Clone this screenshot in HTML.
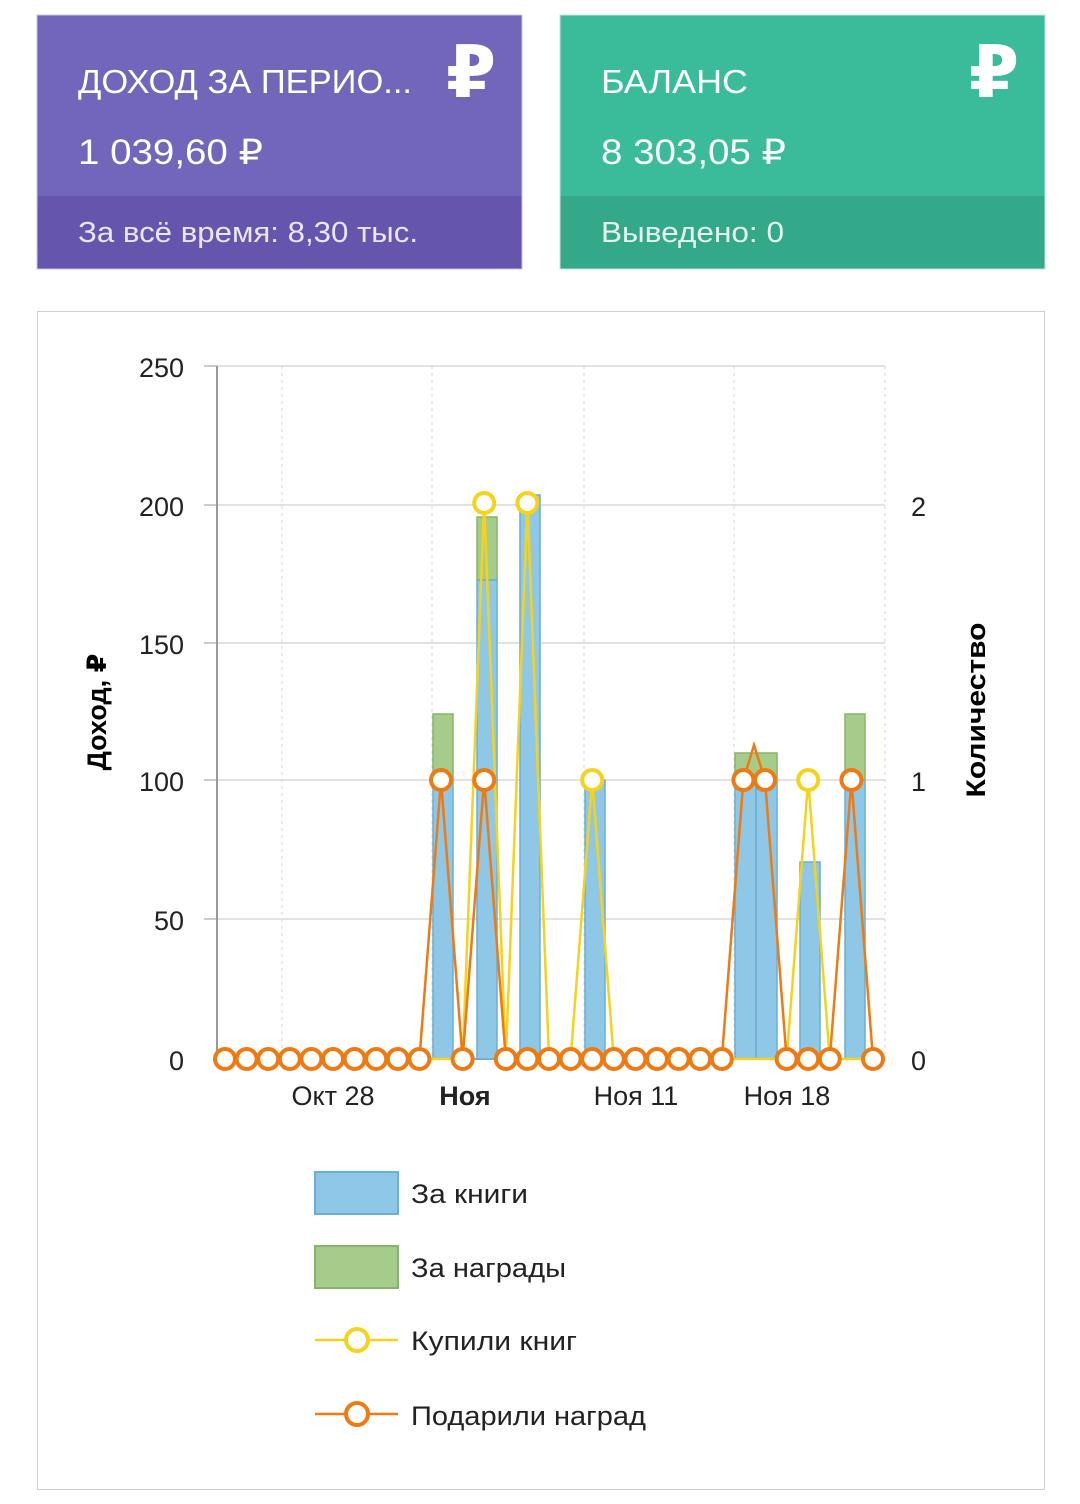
<!DOCTYPE html><html><head><meta charset="utf-8"><style>
body{margin:0;width:1080px;height:1499px;background:#fff;font-family:"Liberation Sans","DejaVu Sans",sans-serif;overflow:hidden}
</style></head><body>
<svg width="1080" height="1499" xmlns="http://www.w3.org/2000/svg" font-family="Liberation Sans, DejaVu Sans, sans-serif">
<rect x="37" y="15" width="485" height="254" fill="#7166b9" stroke="#c9c6dd"/>
<rect x="37.5" y="196" width="484" height="72.5" fill="#6555ad"/>
<text x="78" y="93" font-size="33" fill="#fff" textLength="334" lengthAdjust="spacingAndGlyphs">ДОХОД ЗА ПЕРИО...</text>
<text x="78" y="164" font-size="35" fill="#fff" textLength="185" lengthAdjust="spacingAndGlyphs">1 039,60 ₽</text>
<text x="78" y="242" font-size="29" fill="#eae7f5" textLength="340" lengthAdjust="spacingAndGlyphs">За всё время: 8,30 тыс.</text>
<text x="446" y="97" font-size="72" font-weight="bold" fill="#fff">₽</text>
<rect x="560" y="15" width="485" height="254" fill="#3abc9a" stroke="#c6e3da"/>
<rect x="560.5" y="196" width="484" height="72.5" fill="#34a98a"/>
<text x="601" y="93" font-size="33" fill="#fff" textLength="147" lengthAdjust="spacingAndGlyphs">БАЛАНС</text>
<text x="601" y="164" font-size="35" fill="#fff" textLength="185" lengthAdjust="spacingAndGlyphs">8 303,05 ₽</text>
<text x="601" y="242" font-size="29" fill="#e6f5f0" textLength="183" lengthAdjust="spacingAndGlyphs">Выведено: 0</text>
<text x="969" y="97" font-size="72" font-weight="bold" fill="#fff">₽</text>
<rect x="37.5" y="311.5" width="1007" height="1178" fill="#fff" stroke="#cfcfcf"/>
<g stroke="#e2e2e2" stroke-width="2">
<line x1="217" y1="366" x2="885" y2="366"/><line x1="217" y1="505" x2="885" y2="505"/><line x1="217" y1="643" x2="885" y2="643"/><line x1="217" y1="780" x2="885" y2="780"/><line x1="217" y1="919" x2="885" y2="919"/></g>
<g stroke="#d5d5d5" stroke-dasharray="3,4"><line x1="282" y1="366" x2="282" y2="1059"/><line x1="432" y1="366" x2="432" y2="1059"/><line x1="584" y1="366" x2="584" y2="1059"/><line x1="734" y1="366" x2="734" y2="1059"/><line x1="885" y1="366" x2="885" y2="1059"/></g>
<line x1="217" y1="366" x2="217" y2="1060" stroke="#999" stroke-width="2"/>
<line x1="217" y1="1059" x2="885" y2="1059" stroke="#999" stroke-width="2"/>
<g stroke="#999"><line x1="204" y1="366" x2="217" y2="366"/><line x1="204" y1="505" x2="217" y2="505"/><line x1="204" y1="643" x2="217" y2="643"/><line x1="204" y1="780" x2="217" y2="780"/><line x1="204" y1="919" x2="217" y2="919"/></g>
<g font-size="27" fill="#222" text-anchor="end">
<text x="184" y="377">250</text><text x="184" y="516">200</text><text x="184" y="654">150</text><text x="184" y="791">100</text><text x="184" y="930">50</text><text x="184" y="1070">0</text></g>
<g font-size="27" fill="#222"><text x="911" y="516">2</text><text x="911" y="791">1</text><text x="911" y="1070">0</text></g>
<g font-size="27" fill="#222" text-anchor="middle"><text x="333" y="1105">Окт 28</text><text x="465" y="1105" font-weight="bold">Ноя</text><text x="636" y="1105">Ноя 11</text><text x="787" y="1105">Ноя 18</text></g>
<text transform="translate(106,712) rotate(-90)" font-size="27" font-weight="bold" text-anchor="middle">Доход, ₽</text>
<text transform="translate(985,710) rotate(-90)" font-size="27" font-weight="bold" text-anchor="middle" textLength="175" lengthAdjust="spacingAndGlyphs">Количество</text>
<g fill="#a6cc8c" stroke="#86b46a" stroke-width="1.5">
<rect x="433" y="714" width="20" height="66"/><rect x="477" y="517" width="20" height="63"/><rect x="735" y="753" width="42" height="27"/><rect x="845" y="714" width="20" height="66"/></g>
<g fill="#8ec8e6" stroke="#6aaed6" stroke-width="1.5">
<rect x="433" y="780" width="20" height="279"/><rect x="477" y="580" width="20" height="479"/><rect x="520" y="495" width="20" height="564"/><rect x="585" y="780" width="20" height="279"/><rect x="735" y="780" width="21" height="279"/><rect x="756" y="780" width="21" height="279"/><rect x="800" y="862" width="20" height="197"/><rect x="845" y="780" width="20" height="279"/></g>
<polyline fill="none" stroke="#f5d31c" stroke-width="2.5" points="225,1059 462.6,1059 484.2,503 505.8,1059 527.4,503 549,1059 570.6,1059 592.2,780 613.8,1059 786.6,1059 808.2,780 829.8,1059 873,1059"/>
<polyline fill="none" stroke="#f07a12" stroke-width="2.5" points="225,1059 419.4,1059 441,780 462.6,1059 484.2,780 505.8,1059 721.8,1059 743.4,780 754,745 765,780 786.6,1059 829.8,1059 851.4,780 873,1059"/>
<g fill="#fff" stroke="#f5d31c" stroke-width="4"><circle cx="484.2" cy="503" r="10"/><circle cx="527.4" cy="503" r="10"/><circle cx="592.2" cy="780" r="10"/><circle cx="808.2" cy="780" r="10"/></g>
<g fill="#fff" stroke="#f07a12" stroke-width="4">
<circle cx="225" cy="1059" r="10"/><circle cx="246.6" cy="1059" r="10"/><circle cx="268.2" cy="1059" r="10"/><circle cx="289.8" cy="1059" r="10"/><circle cx="311.4" cy="1059" r="10"/><circle cx="333" cy="1059" r="10"/><circle cx="354.6" cy="1059" r="10"/><circle cx="376.2" cy="1059" r="10"/><circle cx="397.8" cy="1059" r="10"/><circle cx="419.4" cy="1059" r="10"/><circle cx="441" cy="780" r="10"/><circle cx="462.6" cy="1059" r="10"/><circle cx="484.2" cy="780" r="10"/><circle cx="505.8" cy="1059" r="10"/><circle cx="527.4" cy="1059" r="10"/><circle cx="549" cy="1059" r="10"/><circle cx="570.6" cy="1059" r="10"/><circle cx="592.2" cy="1059" r="10"/><circle cx="613.8" cy="1059" r="10"/><circle cx="635.4" cy="1059" r="10"/><circle cx="657" cy="1059" r="10"/><circle cx="678.6" cy="1059" r="10"/><circle cx="700.2" cy="1059" r="10"/><circle cx="721.8" cy="1059" r="10"/><circle cx="743.4" cy="780" r="10"/><circle cx="765" cy="780" r="10"/><circle cx="786.6" cy="1059" r="10"/><circle cx="808.2" cy="1059" r="10"/><circle cx="829.8" cy="1059" r="10"/><circle cx="851.4" cy="780" r="10"/><circle cx="873" cy="1059" r="10"/></g>
<rect x="315" y="1172" width="83" height="42" fill="#8ec8e6" stroke="#6aaed6" stroke-width="2"/>
<rect x="315" y="1246" width="83" height="42" fill="#a6cc8c" stroke="#86b46a" stroke-width="2"/>
<line x1="315" y1="1340" x2="398" y2="1340" stroke="#f5d31c" stroke-width="2.5"/><circle cx="357" cy="1340" r="11" fill="#fff" stroke="#f5d31c" stroke-width="4"/>
<line x1="315" y1="1414" x2="398" y2="1414" stroke="#f07a12" stroke-width="2.5"/><circle cx="357" cy="1414" r="11" fill="#fff" stroke="#f07a12" stroke-width="4"/>
<g font-size="27" fill="#222"><text x="411" y="1203" textLength="117" lengthAdjust="spacingAndGlyphs">За книги</text><text x="411" y="1277" textLength="155" lengthAdjust="spacingAndGlyphs">За награды</text><text x="411" y="1350" textLength="166" lengthAdjust="spacingAndGlyphs">Купили книг</text><text x="411" y="1425" textLength="235" lengthAdjust="spacingAndGlyphs">Подарили наград</text></g>
</svg>
</body></html>
